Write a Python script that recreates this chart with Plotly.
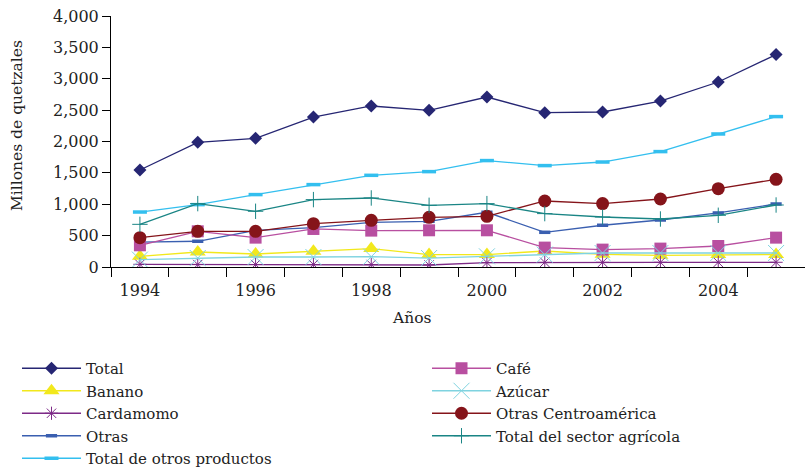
import plotly.graph_objects as go

years = list(range(1994, 2006))

total = [1546, 1987, 2051, 2390, 2566, 2497, 2709, 2460, 2470, 2645, 2948, 3385]
banano = [170, 239, 207, 250, 293, 198, 198, 255, 202, 186, 198, 198]
cardamomo = [43, 40, 40, 40, 40, 32, 70, 75, 75, 75, 75, 75]
otras = [398, 410, 585, 628, 712, 728, 872, 553, 665, 749, 861, 1004]
total_otros = [876, 994, 1154, 1313, 1461, 1520, 1696, 1616, 1673, 1839, 2120, 2397]
cafe = [346, 569, 468, 606, 580, 585, 585, 309, 277, 293, 335, 468]
azucar = [118, 143, 159, 159, 165, 143, 170, 198, 223, 223, 223, 223]
otras_ca = [468, 569, 569, 691, 744, 792, 808, 1052, 1010, 1084, 1249, 1398]
total_agri = [680, 1010, 888, 1074, 1100, 983, 1010, 851, 797, 765, 824, 988]

x_label_years = [1994, 1996, 1998, 2000, 2002, 2004]
x_tick_bounds = [y - 0.5 for y in range(1994, 2007)]
y_ticks = list(range(0, 4001, 500))

FONT = "DejaVu Serif"
TXT = "#222222"
W, H = 805, 469

fig = go.Figure()

def add(name, data, color, symbol, size, legend, mlw=1):
    marker = dict(symbol=symbol, size=size, color=color,
                  line=dict(color=color, width=mlw))
    fig.add_trace(go.Scatter(
        x=years, y=data, name=name, mode="lines+markers",
        line=dict(color=color, width=1.3), marker=marker, legend=legend,
    ))

# left legend column
add("Total", total, "#262673", "diamond", 10, "legend", 0)
add("Banano", banano, "#f2e81c", "triangle-up", 14, "legend", 0)
add("Cardamomo", cardamomo, "#7d2a87", "asterisk-open", 11, "legend", 1)
add("Otras", otras, "#3a5fb0", "line-ew-open", 8, "legend", 3.5)
add("Total de otros productos", total_otros, "#33bfef", "line-ew-open", 10, "legend", 3.5)
# right legend column
add("Café", cafe, "#b84fa0", "square", 12, "legend2", 0)
add("Azúcar", azucar, "#7fd3e0", "x-thin-open", 16, "legend2", 1)
add("Otras Centroamérica", otras_ca, "#85141a", "circle", 13, "legend2", 0)
add("Total del sector agrícola", total_agri, "#1a8585", "cross-thin-open", 11, "legend2", 1)

legend_common = dict(xref="container", yref="container", xanchor="left", yanchor="top",
                     itemwidth=59, font=dict(family=FONT, size=15, color=TXT),
                     tracegroupgap=0, bgcolor="rgba(0,0,0,0)")

fig.update_layout(
    width=W, height=H,
    margin=dict(l=111, r=0, t=16, b=202, autoexpand=False),
    paper_bgcolor="white", plot_bgcolor="white",
    font=dict(family=FONT, size=15, color=TXT),
    showlegend=True,
    legend=dict(x=17/W, y=1 - 352/H, **legend_common),
    legend2=dict(x=427/W, y=1 - 352/H, **legend_common),
    annotations=[
        dict(text="Millones de quetzales", xref="paper", yref="paper",
             x=-(111 - 17)/(W - 111), y=(267 - 126)/251, textangle=-90,
             showarrow=False, xanchor="center", yanchor="middle",
             font=dict(family=FONT, size=15.5, color=TXT)),
        dict(text="Años", xref="paper", yref="paper",
             x=(412 - 111)/(W - 111), y=-(318 - 267)/251,
             showarrow=False, xanchor="center", yanchor="middle",
             font=dict(family=FONT, size=15.5, color=TXT)),
    ],
)

fig.update_xaxes(
    range=[1993.5, 2005.5],
    tickvals=x_label_years, ticktext=[str(v) for v in x_label_years],
    ticks="outside", ticklen=9, tickcolor="rgba(0,0,0,0)",
    minor=dict(tickvals=x_tick_bounds, ticks="outside", ticklen=9,
               tickcolor="black", tickwidth=1, showgrid=False),
    showline=True, linecolor="black", linewidth=1,
    showgrid=False, zeroline=False,
    tickfont=dict(family=FONT, size=16, color=TXT),
)
fig.update_yaxes(
    range=[0, 4000], tickvals=y_ticks, tickformat=",",
    ticks="outside", ticklen=8, tickcolor="black",
    showline=True, linecolor="black", linewidth=1,
    showgrid=False, zeroline=False,
    tickfont=dict(family=FONT, size=16, color=TXT),
)

fig.write_html("out.html", config={"displayModeBar": False},
               post_script="document.body.style.margin='0';document.body.style.overflow='hidden';")
